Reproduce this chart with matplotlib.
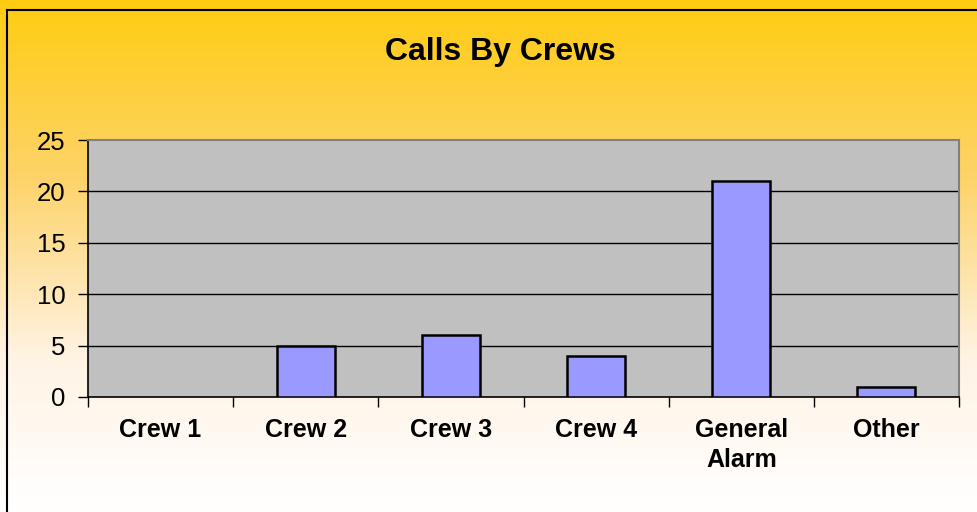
import numpy as np
import matplotlib
matplotlib.use("Agg")
import matplotlib.pyplot as plt
from matplotlib.colors import LinearSegmentedColormap
from matplotlib.lines import Line2D

# dados do gráfico
categorias = ["Crew 1", "Crew 2", "Crew 3", "Crew 4", "General\nAlarm", "Other"]
chamadas = [0, 5, 6, 4, 21, 1]
yticks = [0, 5, 10, 15, 20, 25]

W, H = 977, 512
plt.rcParams['font.family'] = ['Liberation Sans', 'DejaVu Sans']

fig = plt.figure(figsize=(W / 100, H / 100), dpi=100)

# fundo em degradê (amarelo -> branco)
bg = fig.add_axes([0, 0, 1, 1], zorder=0)
grad = LinearSegmentedColormap.from_list(
    "fundo", [(0.0, "#FFCC11"), (0.35, "#FDD36A"), (0.7, "#FFF3E4"), (1.0, "#FFFFFF")])
bg.imshow(np.linspace(0, 1, 256).reshape(-1, 1), aspect="auto", cmap=grad,
          extent=[0, 1, 0, 1], origin="upper")
bg.set_xlim(0, 1)
bg.set_ylim(0, 1)
bg.axis("off")

# moldura (esquerda e topo)
fig.add_artist(Line2D([7 / W, 7 / W], [0, 1 - 10 / H], color="black", lw=1.5,
                      transform=fig.transFigure))
fig.add_artist(Line2D([7 / W, 1], [1 - 10 / H, 1 - 10 / H], color="black", lw=1.5,
                      transform=fig.transFigure))

# área do gráfico
ax = fig.add_axes([88 / W, (H - 397) / H, (959 - 88) / W, (397 - 140) / H], zorder=1)
ax.set_facecolor("#C0C0C0")

x = np.arange(len(categorias))
bordas = [1.8 if v > 0 else 0 for v in chamadas]
ax.bar(x, chamadas, width=0.4, color="#9999FF", edgecolor="black", linewidth=bordas, zorder=3)

ax.set_xlim(-0.5, len(categorias) - 0.5)
ax.set_ylim(0, 25)
ax.set_yticks(yticks)
ax.set_yticklabels([str(v) for v in yticks], fontsize=18.5)
for v in yticks[1:-1]:
    ax.axhline(v, color="black", lw=1, zorder=2)

ax.set_xticks(np.arange(len(categorias) + 1) - 0.5, minor=False)
ax.set_xticklabels([])
ax.set_xticks(x, minor=True)
ax.set_xticklabels(categorias, minor=True, fontsize=18, fontweight="bold",
                   linespacing=1.3)
ax.tick_params(axis="x", which="minor", length=0, pad=15)
ax.tick_params(axis="x", which="major", length=7, width=1, color="black")
ax.tick_params(axis="y", length=7, width=1, color="black", pad=9)

ax.spines["left"].set_color("black")
ax.spines["bottom"].set_color("black")
ax.spines["left"].set_linewidth(1.2)
ax.spines["bottom"].set_linewidth(1.2)
ax.spines["top"].set_color("#808080")
ax.spines["right"].set_color("#808080")
ax.spines["top"].set_linewidth(1.5)
ax.spines["right"].set_linewidth(1.5)

fig.text(500 / W, 1 - 52 / H, "Calls By Crews", ha="center", va="center",
         fontsize=23, fontweight="bold")

fig.savefig("out.png", dpi=100)
